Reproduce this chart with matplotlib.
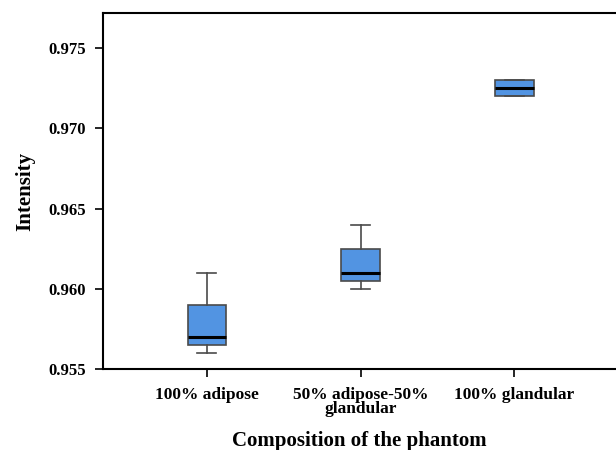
import matplotlib.pyplot as plt

# Box statistics
labels = ['100% adipose', '50% adipose-50%\nglandular', '100% glandular']
whislo = [0.9560, 0.9600, 0.9720]
q1 = [0.9565, 0.9605, 0.9720]
med = [0.9570, 0.9610, 0.9725]
q3 = [0.9590, 0.9625, 0.9730]
whishi = [0.9610, 0.9640, 0.9730]
yticks = [0.955, 0.960, 0.965, 0.970, 0.975]

plt.rcParams['font.family'] = ['Liberation Serif', 'DejaVu Serif']
plt.rcParams['font.weight'] = 'bold'

fig = plt.figure(figsize=(6.16, 4.5), dpi=100)
ax = fig.add_axes([0.1672, 0.18, 0.8328, 0.7911])

stats = []
for i in range(len(labels)):
    stats.append({'whislo': whislo[i], 'q1': q1[i], 'med': med[i],
                  'q3': q3[i], 'whishi': whishi[i], 'fliers': []})

ax.bxp(stats, positions=[1, 2, 3], widths=0.25, patch_artist=True,
       showfliers=False,
       boxprops=dict(facecolor='#5294e2', edgecolor='#4a4a4a', linewidth=1.2),
       medianprops=dict(color='black', linewidth=2.2),
       whiskerprops=dict(color='#4a4a4a', linewidth=1.2),
       capprops=dict(color='#4a4a4a', linewidth=1.2),
       capwidths=0.125)

ax.set_xlim(0.325, 3.66)
ax.set_ylim(0.955, 0.9772)
ax.set_yticks(yticks)
ax.set_yticklabels(['%.3f' % v for v in yticks], fontsize=12, fontweight='bold')
ax.set_xticks([1, 2, 3])
ax.set_xticklabels(labels, fontsize=12.5, fontweight='bold', linespacing=0.85)

ax.spines['right'].set_visible(False)
for s in ['left', 'top', 'bottom']:
    ax.spines[s].set_linewidth(1.5)
ax.tick_params(axis='both', direction='out', length=6, width=1.2, pad=6)
ax.tick_params(axis='x', pad=7)

ax.set_ylabel('Intensity', fontsize=15, fontweight='bold', labelpad=10)
ax.set_xlabel('Composition of the phantom', fontsize=15, fontweight='bold',
              labelpad=10)

fig.savefig('out.png', dpi=100)
